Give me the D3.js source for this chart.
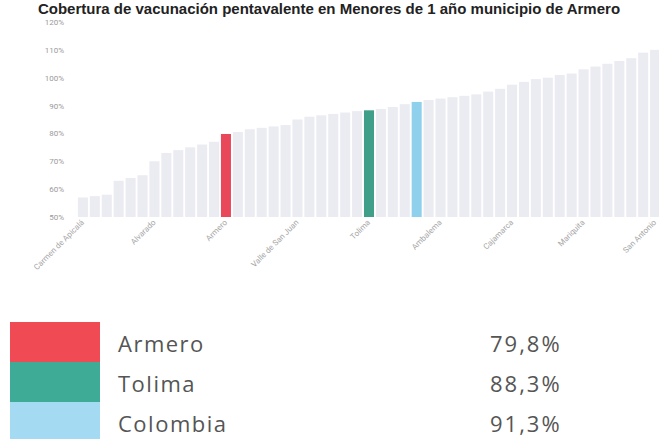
<html>
<head>
<meta charset="utf-8">
<style>
  body { margin: 0; background: #fff; }
  svg { display: block; }
</style>
</head>
<body>
<svg id="chart" width="659" height="439"></svg>
<script src="https://cdn.jsdelivr.net/npm/d3@7"></script>
<script>
// municipios ordenados por cobertura (pentavalente, menores de 1 año)
const categories = [
  'Carmen de Apicalá', 'Coyaima', 'Ataco', 'Planadas', 'Rioblanco', 'Natagaima',
  'Alvarado', 'Ortega', 'Dolores', 'Prado', 'Purificación', 'Coello',
  'Armero', 'Cunday', 'Villarrica', 'Herveo', 'Casabianca', 'Murillo',
  'Valle de San Juan', 'Santa Isabel', 'Anzoátegui', 'Alpujarra', 'Saldaña', 'Suárez',
  'Tolima', 'Piedras', 'Lérida', 'Venadillo', 'Colombia', 'San Luis',
  'Ambalema', 'Rovira', 'Palocabildo', 'Falan', 'Fresno', 'Icononzo',
  'Cajamarca', 'Villahermosa', 'Guamo', 'Flandes', 'Líbano', 'Roncesvalles',
  'Mariquita', 'Chaparral', 'Espinal', 'Honda', 'Melgar', 'Ibagué', 'San Antonio'
]
const values = [
  57, 57.5, 58, 63, 64, 65,
  70, 73, 74, 75, 76, 77,
  79.8, 80.5, 81.5, 82, 82.5, 83,
  85, 86, 86.5, 87, 87.5, 88,
  88.3, 88.8, 89.5, 90.5, 91.3, 92,
  92.5, 93, 93.5, 94, 95, 96,
  97.5, 98.5, 99.5, 100, 101, 101.5,
  103, 104, 105, 106, 107, 109, 110
]
const yTicks = [50, 60, 70, 80, 90, 100, 110, 120]
const title = 'Cobertura de vacunación pentavalente en Menores de 1 año municipio de Armero'

const legendNames = ['Armero', 'Tolima', 'Colombia']
const legendValues = ['79,8%', '88,3%', '91,3%']
const barColors = ['#e9485a', '#3f9f88', '#8fd0ec']
const legendColors = ['#f04a55', '#3dab96', '#a4dbf2']

const svg = d3.select('#chart')

const x = d3.scaleBand().domain(categories).range([76, 662]).padding(0.16)
const y = d3.scaleLinear().domain([50, 120]).range([217, 22])

// titulo
svg.append('text')
  .attr('x', 329).attr('y', 14)
  .attr('text-anchor', 'middle')
  .attr('font-family', 'Liberation Sans, Arial, sans-serif')
  .attr('font-weight', 'bold').attr('font-size', '15px')
  .attr('fill', '#222')
  .text(title)

// barras
const colorOf = name => {
  const i = legendNames.indexOf(name)
  return i >= 0 ? barColors[i] : '#ebebf2'
}
svg.selectAll('.bar').data(categories).enter().append('rect').classed('bar', true)
  .attr('x', d => x(d))
  .attr('y', (d, i) => y(values[i]))
  .attr('width', x.bandwidth())
  .attr('height', (d, i) => y(50) - y(values[i]))
  .attr('fill', d => colorOf(d))

// eje y
const yAxis = svg.append('g').attr('transform', 'translate(66,0)')
  .call(d3.axisLeft(y).tickValues(yTicks).tickFormat(d => d + '%').tickSize(0).tickPadding(2))
yAxis.select('.domain').remove()
yAxis.selectAll('text').attr('font-size', '8px').attr('fill', '#9a9a9a')
  .attr('font-family', 'Roboto, sans-serif')

// eje x, una etiqueta cada 6 barras
const xAxis = svg.append('g').attr('transform', 'translate(0,219)')
  .call(d3.axisBottom(x).tickValues(categories.filter((d, i) => i % 6 === 0)).tickSize(0).tickPadding(0))
xAxis.select('.domain').remove()
xAxis.selectAll('text')
  .attr('font-size', '8px').attr('fill', '#a5a5a5')
  .attr('font-family', 'Roboto, sans-serif')
  .attr('text-anchor', 'end')
  .attr('dy', '0.5em').attr('dx', '-0.2em')
  .attr('transform', 'rotate(-45)')

// leyenda
const legend = svg.selectAll('.leg').data(legendNames).enter().append('g').classed('leg', true)
  .attr('transform', (d, i) => `translate(0,${322 + i * 40})`)
legend.append('rect').attr('x', 10).attr('y', 0).attr('width', 90).attr('height', 40)
  .attr('fill', (d, i) => legendColors[i])
legend.append('text').attr('x', 118).attr('y', 30)
  .attr('font-family', 'Open Sans, sans-serif').attr('font-size', '22px')
  .attr('fill', '#555').attr('letter-spacing', '1.5px')
  .text(d => d)
legend.append('text').attr('x', 490).attr('y', 30)
  .attr('font-family', 'Open Sans, sans-serif').attr('font-size', '22px')
  .attr('fill', '#555').attr('letter-spacing', '2px')
  .text((d, i) => legendValues[i])
</script>
</body>
</html>
